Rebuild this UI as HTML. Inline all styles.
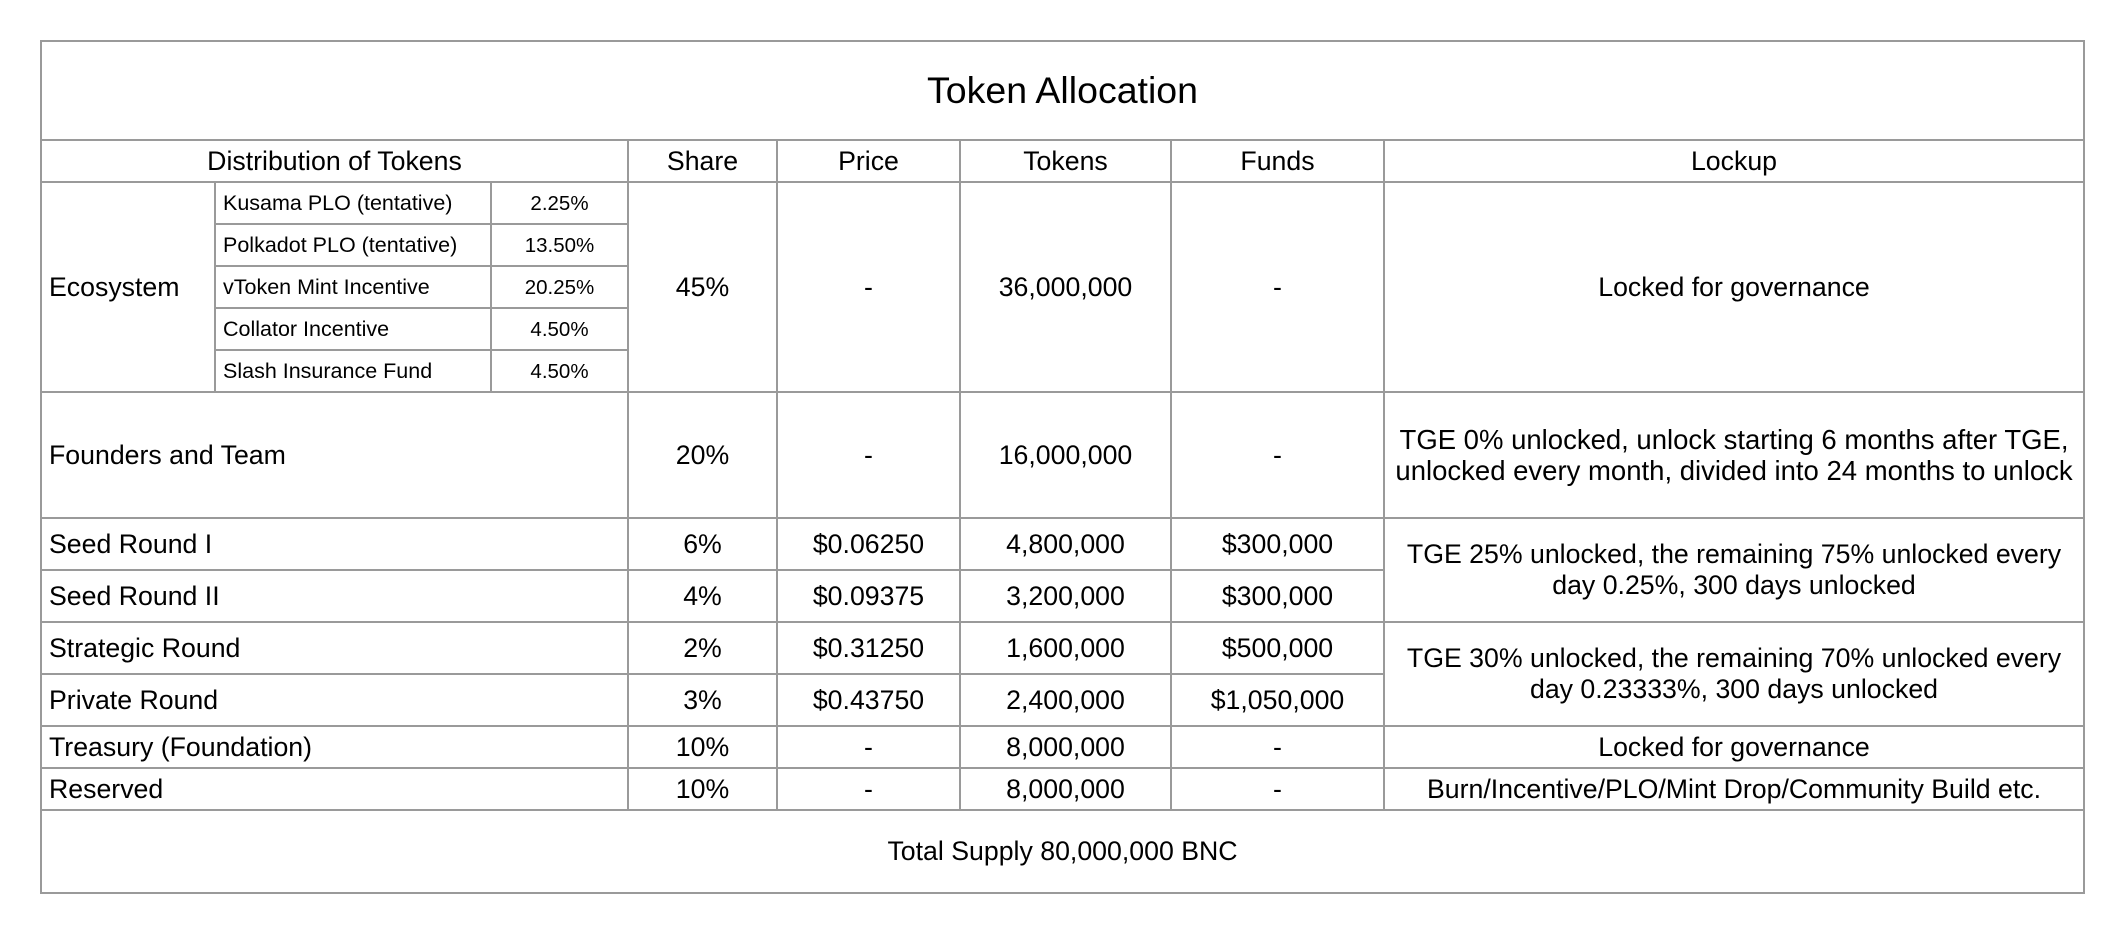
<!DOCTYPE html>
<html><head><meta charset="utf-8"><style>
html,body{margin:0;padding:0;background:#fff;width:2124px;height:934px;overflow:hidden}
table{position:absolute;left:40px;top:40px;border-collapse:collapse;table-layout:fixed;width:2043px;font-family:"Liberation Sans",Arial,sans-serif;color:#000}
td{border:2px solid #9a9a9a;padding:0;text-align:center;vertical-align:middle;font-size:26.7px;line-height:31px;overflow:hidden;white-space:nowrap}
td.l{text-align:left;padding-left:7px}
td.s{font-size:21.5px}
td.p{font-size:20.5px}
td.t{font-size:37.5px}
td.f{font-size:27.5px}
</style></head><body>
<table>
<colgroup><col style="width:174px"><col style="width:276px"><col style="width:137px"><col style="width:149px"><col style="width:183px"><col style="width:211px"><col style="width:213px"><col style="width:700px"></colgroup>
<tr style="height:99px"><td colspan="8" class="t">Token Allocation</td></tr>
<tr style="height:42px">
<td colspan="3">Distribution of Tokens</td>
<td>Share</td>
<td>Price</td>
<td>Tokens</td>
<td>Funds</td>
<td>Lockup</td></tr>
<tr style="height:42px">
<td rowspan="5" class="l">Ecosystem</td>
<td class="l s">Kusama PLO (tentative)</td>
<td class="p">2.25%</td>
<td rowspan="5">45%</td>
<td rowspan="5">-</td>
<td rowspan="5">36,000,000</td>
<td rowspan="5">-</td>
<td rowspan="5">Locked for governance</td></tr>
<tr style="height:42px"><td class="l s">Polkadot PLO (tentative)</td><td class="p">13.50%</td></tr>
<tr style="height:42px"><td class="l s">vToken Mint Incentive</td><td class="p">20.25%</td></tr>
<tr style="height:42px"><td class="l s">Collator Incentive</td><td class="p">4.50%</td></tr>
<tr style="height:42px"><td class="l s">Slash Insurance Fund</td><td class="p">4.50%</td></tr>
<tr style="height:126px">
<td colspan="3" class="l">Founders and Team</td>
<td>20%</td><td>-</td><td>16,000,000</td><td>-</td>
<td class="f">TGE 0% unlocked, unlock starting 6 months after TGE,<br>unlocked every month, divided into 24 months to unlock</td></tr>
<tr style="height:52px">
<td colspan="3" class="l">Seed Round I</td>
<td>6%</td><td>$0.06250</td><td>4,800,000</td><td>$300,000</td>
<td rowspan="2">TGE 25% unlocked, the remaining 75% unlocked every<br>day 0.25%, 300 days unlocked</td></tr>
<tr style="height:52px">
<td colspan="3" class="l">Seed Round II</td>
<td>4%</td><td>$0.09375</td><td>3,200,000</td><td>$300,000</td></tr>
<tr style="height:52px">
<td colspan="3" class="l">Strategic Round</td>
<td>2%</td><td>$0.31250</td><td>1,600,000</td><td>$500,000</td>
<td rowspan="2">TGE 30% unlocked, the remaining 70% unlocked every<br>day 0.23333%, 300 days unlocked</td></tr>
<tr style="height:52px">
<td colspan="3" class="l">Private Round</td>
<td>3%</td><td>$0.43750</td><td>2,400,000</td><td>$1,050,000</td></tr>
<tr style="height:42px">
<td colspan="3" class="l">Treasury (Foundation)</td>
<td>10%</td><td>-</td><td>8,000,000</td><td>-</td>
<td>Locked for governance</td></tr>
<tr style="height:42px">
<td colspan="3" class="l">Reserved</td>
<td>10%</td><td>-</td><td>8,000,000</td><td>-</td>
<td>Burn/Incentive/PLO/Mint Drop/Community Build etc.</td></tr>
<tr style="height:83px"><td colspan="8">Total Supply 80,000,000 BNC</td></tr>
</table>
</body></html>
